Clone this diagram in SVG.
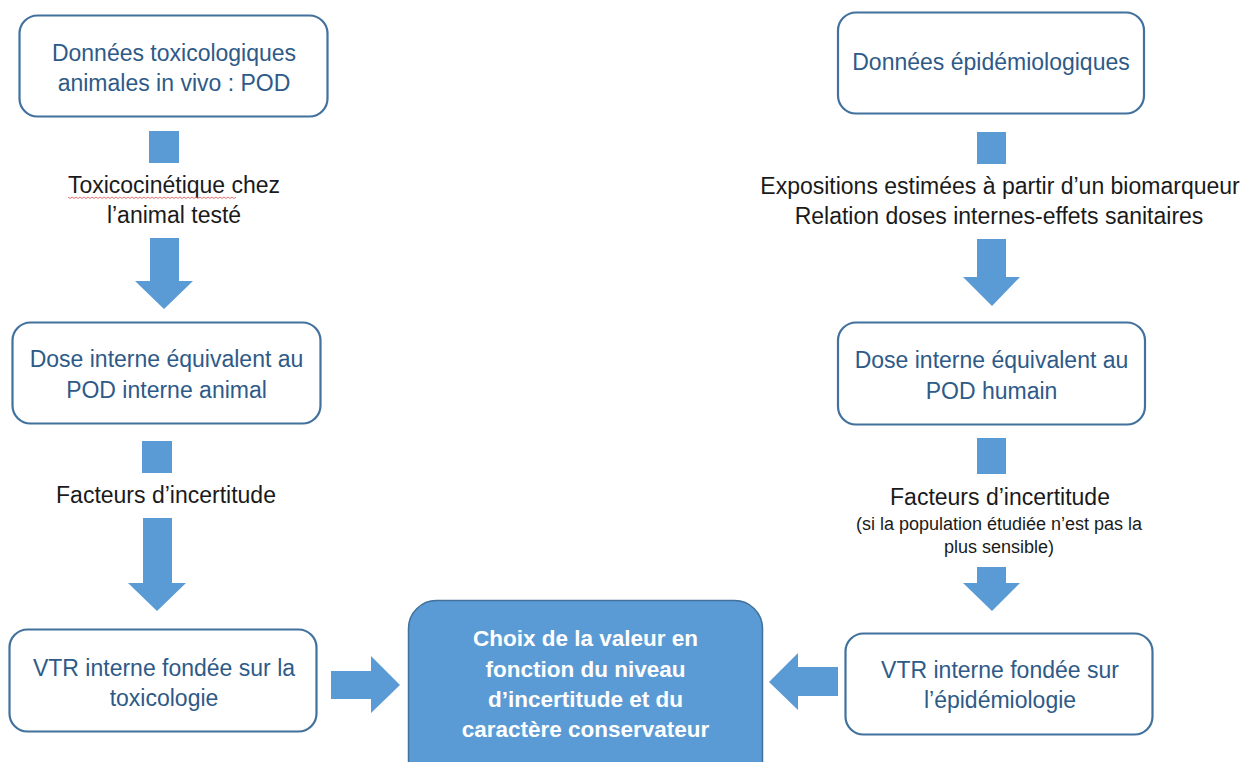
<svg xmlns="http://www.w3.org/2000/svg" width="1246" height="762" viewBox="0 0 1246 762">
<style>
  .box { fill: #ffffff; stroke: #41719C; stroke-width: 2.2; }
  .main { fill: #5B9BD5; stroke: #41719C; stroke-width: 1.5; }
  .arr { fill: #5B9BD5; }
  .bt { font-family: "Liberation Sans", Arial, sans-serif; font-size: 23px; fill: #2E5A88; text-anchor: middle; }
  .lb { font-family: "Liberation Sans", Arial, sans-serif; font-size: 23px; fill: #1a1a1a; text-anchor: middle; }
  .sm { font-family: "Liberation Sans", Arial, sans-serif; font-size: 18px; fill: #1a1a1a; text-anchor: middle; }
  .wt { font-family: "Liberation Sans", Arial, sans-serif; font-size: 22.5px; font-weight: bold; fill: #ffffff; text-anchor: middle; }
</style>
<rect width="1246" height="762" fill="#ffffff"/>

<g id="connectors">
  <rect class="arr" x="149" y="131" width="30" height="32"/>
  <text class="lb" x="174" y="193">Toxicocinétique chez</text>
  <path d="M68 197 l2 1.5 l2 -1.5 l2 1.5 l2 -1.5 l2 1.5 l2 -1.5 l2 1.5 l2 -1.5 l2 1.5 l2 -1.5 l2 1.5 l2 -1.5 l2 1.5 l2 -1.5 l2 1.5 l2 -1.5 l2 1.5 l2 -1.5 l2 1.5 l2 -1.5 l2 1.5 l2 -1.5 l2 1.5 l2 -1.5 l2 1.5 l2 -1.5 l2 1.5 l2 -1.5 l2 1.5 l2 -1.5 l2 1.5 l2 -1.5 l2 1.5 l2 -1.5 l2 1.5 l2 -1.5 l2 1.5 l2 -1.5 l2 1.5 l2 -1.5 l2 1.5 l2 -1.5 l2 1.5 l2 -1.5 l2 1.5 l2 -1.5 l2 1.5 l2 -1.5 l2 1.5 l2 -1.5 l2 1.5 l2 -1.5 l2 1.5 l2 -1.5 l2 1.5 l2 -1.5 l2 1.5 l2 -1.5 l2 1.5 l2 -1.5 l2 1.5 l2 -1.5 l2 1.5 l2 -1.5 l2 1.5 l2 -1.5 l2 1.5 l2 -1.5 l2 1.5 l2 -1.5 l2 1.5 l2 -1.5 l2 1.5 l2 -1.5 l2 1.5 l2 -1.5 l2 1.5 l2 -1.5 l2 1.5 l2 -1.5 l2 1.5 l2 -1.5 l2 1.5 l2 -1.5" fill="none" stroke="#e05050" stroke-width="0.8"/>
  <text class="lb" x="174" y="223">l’animal testé</text>
  <polygon class="arr" points="150,238 179,238 179,281 193,281 164,309 135,281 150,281"/>

  <rect class="arr" x="142" y="441" width="30" height="32"/>
  <text class="lb" x="166" y="503">Facteurs d’incertitude</text>
  <polygon class="arr" points="143,518 172,518 172,583 186,583 157,611 128,583 143,583"/>

  <rect class="arr" x="977" y="132" width="29" height="32"/>
  <text class="lb" x="1000" y="194">Expositions estimées à partir d’un biomarqueur</text>
  <text class="lb" x="999" y="224">Relation doses internes-effets sanitaires</text>
  <polygon class="arr" points="977,239 1006,239 1006,277 1020,277 992,306 963,277 977,277"/>

  <rect class="arr" x="977" y="438" width="29" height="36"/>
  <text class="lb" x="1000" y="505">Facteurs d’incertitude</text>
  <text class="sm" x="999" y="530">(si la population étudiée n’est pas la</text>
  <text class="sm" x="999" y="553">plus sensible)</text>
  <polygon class="arr" points="977,567 1006,567 1006,583 1020,583 992,611 963,583 977,583"/>

  <polygon class="arr" points="331,671 371,671 371,656 400,685 371,713 371,699 331,699"/>
  <polygon class="arr" points="838,667 798,667 798,653 769,682 798,710 798,696 838,696"/>
</g>

<g id="node-tox-data">
  <rect class="box" x="19.5" y="15.5" width="308" height="101" rx="18"/>
  <text class="bt" x="174" y="61">Données toxicologiques</text>
  <text class="bt" x="174" y="91">animales in vivo : POD</text>
</g>

<g id="node-epi-data">
  <rect class="box" x="838" y="12.5" width="306" height="101" rx="18"/>
  <text class="bt" x="991" y="69.5">Données épidémiologiques</text>
</g>

<g id="node-dose-animal">
  <rect class="box" x="12.5" y="322.5" width="308" height="101" rx="18"/>
  <text class="bt" x="166.5" y="367">Dose interne équivalent au</text>
  <text class="bt" x="166.5" y="398">POD interne animal</text>
</g>

<g id="node-dose-human">
  <rect class="box" x="838" y="322.5" width="307" height="102" rx="18"/>
  <text class="bt" x="991.5" y="368">Dose interne équivalent au</text>
  <text class="bt" x="991.5" y="399">POD humain</text>
</g>

<g id="node-vtr-tox">
  <rect class="box" x="9.5" y="629.5" width="307" height="102" rx="18"/>
  <text class="bt" x="164" y="676">VTR interne fondée sur la</text>
  <text class="bt" x="164" y="706">toxicologie</text>
</g>

<g id="node-vtr-epi">
  <rect class="box" x="845.5" y="633.5" width="307" height="101" rx="18"/>
  <text class="bt" x="1000" y="678">VTR interne fondée sur</text>
  <text class="bt" x="1000" y="708">l’épidémiologie</text>
</g>

<g id="node-choice">
  <rect class="main" x="408.5" y="600.5" width="354" height="190" rx="28"/>
  <text class="wt" x="585.5" y="646">Choix de la valeur en</text>
  <text class="wt" x="585.5" y="676.5">fonction du niveau</text>
  <text class="wt" x="585.5" y="707">d’incertitude et du</text>
  <text class="wt" x="585.5" y="737">caractère conservateur</text>
</g>
</svg>
